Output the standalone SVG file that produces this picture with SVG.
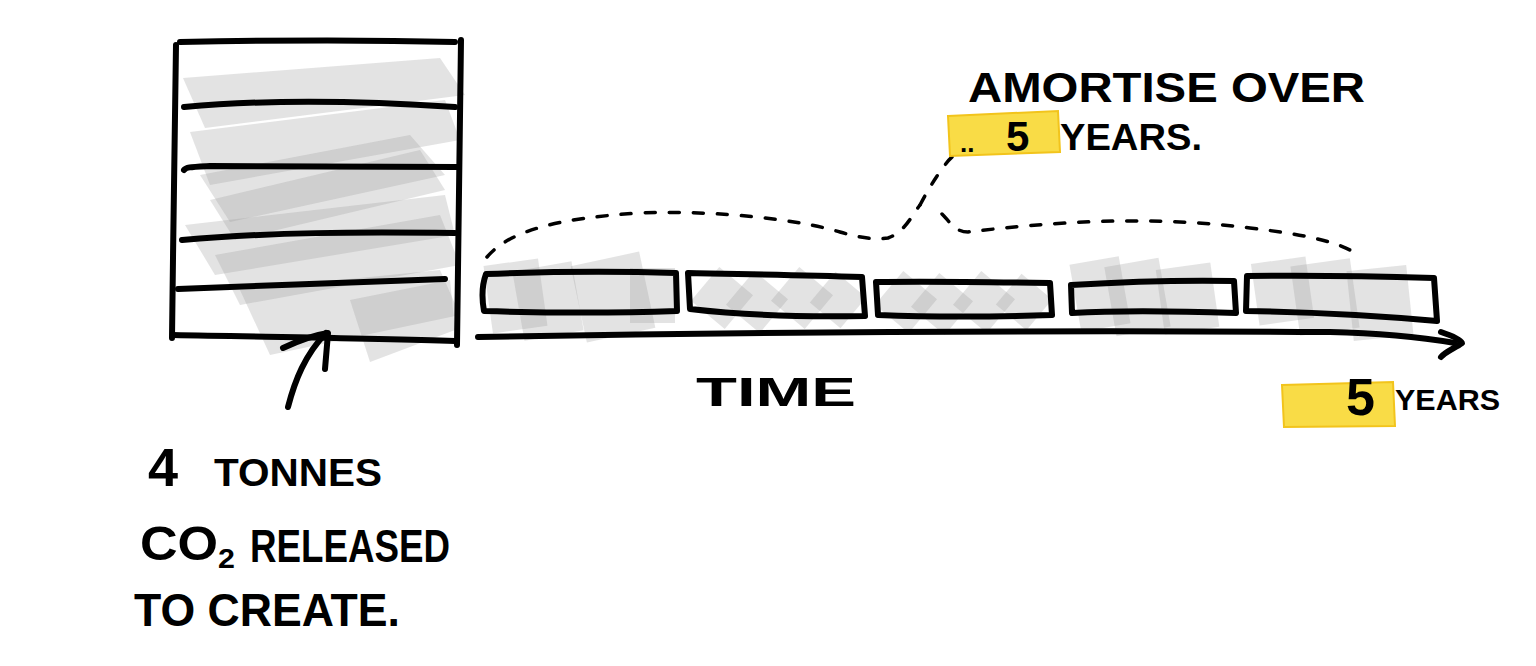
<svg xmlns="http://www.w3.org/2000/svg" width="1536" height="666" viewBox="0 0 1536 666">
<style>
.ink{fill:none;stroke:#000;stroke-width:6;stroke-linecap:round;stroke-linejoin:round}
.dash{fill:none;stroke:#000;stroke-width:3.5;stroke-linecap:round;stroke-dasharray:10 14}
.shade{fill:#9a9a9a;fill-opacity:0.28}
.hl{fill:#f9dc46;stroke:#f2c41c;stroke-width:2}
.t{font-family:"Liberation Sans",Arial,sans-serif;font-weight:bold;fill:#000}
</style>
<rect width="1536" height="666" fill="#fff"/>

<g id="building">
  <g class="shade">
    <polygon points="183,78 440,58 465,95 205,128"/>
    <polygon points="190,132 445,100 460,140 210,185"/>
    <polygon points="200,175 410,135 445,175 230,222"/>
    <polygon points="210,200 420,150 445,190 235,240"/>
    <polygon points="185,225 445,195 455,235 215,275"/>
    <polygon points="215,255 440,215 460,265 240,305"/>
    <polygon points="240,290 440,270 460,315 270,355"/>
    <polygon points="350,300 450,280 455,330 370,362"/>
  </g>
  <path class="ink" d="M180,42 C280,40 380,40 455,42"/>
  <path class="ink" d="M176,45 C175,140 173,240 172,338"/>
  <path class="ink" d="M461,40 C460,140 458,240 457,345"/>
  <path class="ink" d="M184,107 C260,100 350,100 455,107"/>
  <path class="ink" d="M184,170 C186,167 190,167 210,166 C300,166 380,166 457,167"/>
  <path class="ink" d="M182,240 C270,232 360,232 455,233"/>
  <path class="ink" d="M178,289 C270,285 350,283 445,279"/>
  <path class="ink" d="M173,335 C270,337 370,338 455,341"/>
</g>

<g id="arrow-up">
  <path class="ink" d="M288,407 C295,380 305,355 326,333"/>
  <path class="ink" d="M283,348 C300,340 315,335 328,333 C327,345 326,358 325,369"/>
</g>

<g id="timeline">
  <g class="shade">
    <rect x="488" y="262" width="55" height="68" transform="rotate(-8 515 296)"/>
    <rect x="518" y="266" width="60" height="70" transform="rotate(-10 548 301)"/>
    <rect x="578" y="258" width="70" height="78" transform="rotate(-12 613 297)"/>
    <rect x="630" y="268" width="45" height="55"/>
    <rect x="700" y="276" width="44" height="44" transform="rotate(40 722 298)"/>
    <rect x="735" y="280" width="44" height="44" transform="rotate(40 757 302)"/>
    <rect x="780" y="276" width="44" height="44" transform="rotate(40 802 298)"/>
    <rect x="818" y="280" width="40" height="40" transform="rotate(40 838 300)"/>
    <rect x="884" y="280" width="44" height="44" transform="rotate(40 906 302)"/>
    <rect x="920" y="282" width="44" height="44" transform="rotate(40 942 304)"/>
    <rect x="962" y="280" width="44" height="44" transform="rotate(40 984 302)"/>
    <rect x="1004" y="282" width="40" height="40" transform="rotate(40 1024 302)"/>
    <rect x="1075" y="260" width="50" height="68" transform="rotate(-10 1100 294)"/>
    <rect x="1110" y="262" width="55" height="70" transform="rotate(-10 1137 297)"/>
    <rect x="1160" y="266" width="55" height="65" transform="rotate(-8 1187 298)"/>
    <rect x="1255" y="260" width="55" height="62" transform="rotate(-8 1282 291)"/>
    <rect x="1295" y="262" width="60" height="70" transform="rotate(-8 1325 297)"/>
    <rect x="1350" y="268" width="60" height="70" transform="rotate(-6 1380 303)"/>
  </g>
  <path class="ink" d="M486,274 C540,272 610,271 676,273 L677,311 C620,313 550,313 484,311 C482,300 482,285 486,274 Z"/>
  <path class="ink" d="M688,273 C740,274 800,275 862,277 L865,316 C810,317 750,316 690,309 Z"/>
  <path class="ink" d="M876,282 C930,281 990,282 1050,283 L1052,315 C990,317 930,317 878,315 Z"/>
  <path class="ink" d="M1071,285 C1120,282 1180,280 1234,281 L1236,313 C1180,311 1120,310 1072,313 Z"/>
  <path class="ink" d="M1247,276 C1310,275 1370,276 1434,278 L1437,321 C1370,315 1310,312 1246,311 Z"/>
  <path class="ink" d="M478,337 C700,333 1000,330 1330,332 C1380,333 1420,337 1455,343"/>
  <path class="ink" d="M1441,332 C1450,335 1460,339 1462,343 C1455,348 1445,352 1441,357"/>
</g>

<g id="brace">
  <path class="dash" d="M487,257 C510,230 560,218 640,213 C720,210 800,220 840,232 C860,238 875,240 888,238 C905,232 912,215 920,205"/>
  <path class="dash" d="M920,205 C928,190 935,178 945,165 C952,155 960,150 972,147"/>
  <path class="dash" d="M942,214 C950,222 955,232 968,232 C1050,222 1150,215 1250,228 C1300,234 1330,240 1350,250"/>
</g>

<g id="amortise-label">
  <polygon class="hl" points="948,116 1058,111 1060,152 950,156"/>
  <text class="t" x="968" y="102" font-size="42" textLength="397" lengthAdjust="spacingAndGlyphs">AMORTISE OVER</text>
  <text class="t" x="960" y="152" font-size="26">..</text>
  <text class="t" x="1006" y="151" font-size="42">5</text>
  <text class="t" x="1060" y="150" font-size="36" textLength="142" lengthAdjust="spacingAndGlyphs">YEARS.</text>
</g>

<g id="time-label">
  <text class="t" x="696" y="406" font-size="40" textLength="160" lengthAdjust="spacingAndGlyphs">TIME</text>
</g>

<g id="years-label">
  <polygon class="hl" points="1282,385 1393,382 1395,426 1284,427"/>
  <text class="t" x="1346" y="415" font-size="52">5</text>
  <text class="t" x="1395" y="410" font-size="30" textLength="105" lengthAdjust="spacingAndGlyphs">YEARS</text>
</g>

<g id="co2-label">
  <text class="t" x="148" y="486" font-size="54">4</text>
  <text class="t" x="214" y="486" font-size="38" textLength="168" lengthAdjust="spacingAndGlyphs">TONNES</text>
  <text class="t" x="140" y="560" font-size="48" textLength="95" lengthAdjust="spacingAndGlyphs">CO<tspan font-size="28" dy="8">2</tspan></text>
  <text class="t" x="250" y="562" font-size="46" textLength="200" lengthAdjust="spacingAndGlyphs">RELEASED</text>
  <text class="t" x="134" y="626" font-size="46" textLength="266" lengthAdjust="spacingAndGlyphs">TO CREATE.</text>
</g>
</svg>
